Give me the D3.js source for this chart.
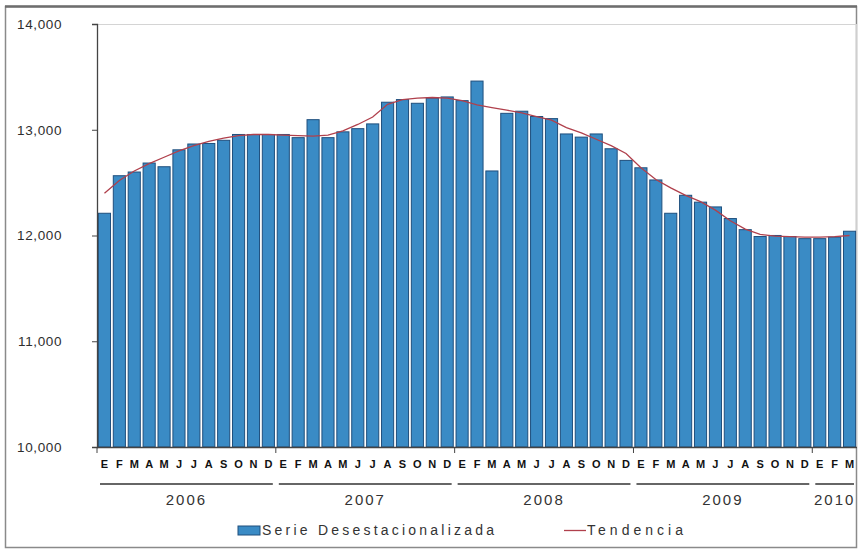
<!DOCTYPE html>
<html>
<head>
<meta charset="utf-8">
<script src="https://cdn.jsdelivr.net/npm/d3@7"></script>
<style>
  html, body { margin: 0; padding: 0; background: #fff; }
  svg { display: block; font-family: Arial, "Liberation Sans", sans-serif; }
</style>
</head>
<body>
<svg id="chart" width="861" height="552"></svg>
<script>
// Monthly series, January 2006 – March 2010
const years = [2006, 2007, 2008, 2009, 2010];
const monthLetters = ["E", "F", "M", "A", "M", "J", "J", "A", "S", "O", "N", "D"];
const monthsPerYear = [12, 12, 12, 12, 3];

// Serie Desestacionalizada
const seasonallyAdjusted = [
  12215, 12570, 12605, 12690, 12655, 12815, 12870, 12875, 12905, 12960, 12960, 12960,
  12960, 12930, 13100, 12930, 12985, 13015, 13060, 13265, 13290, 13255, 13305, 13315,
  13280, 13465, 12615, 13160, 13180, 13130, 13110, 12965, 12935, 12965, 12825, 12715,
  12645, 12530, 12215, 12385, 12320, 12275, 12165, 12060, 11995, 12005, 11995, 11975,
  11975, 11990, 12045
];

// Tendencia
const trend = [
  12400, 12520, 12610, 12680, 12740, 12800, 12850, 12890, 12920, 12945, 12955, 12955,
  12950, 12945, 12940, 12950, 12990, 13050, 13120, 13240, 13285, 13300, 13305, 13300,
  13275, 13235, 13210, 13185, 13160, 13125, 13090, 13020, 12970, 12910, 12850, 12775,
  12640, 12530, 12450, 12380, 12320, 12240, 12140, 12060, 12010, 11995, 11990, 11985,
  11985, 11990, 12000
];

const yTicks = [10000, 11000, 12000, 13000, 14000];

// Build the month index
const months = [];
years.forEach((yr, yi) => {
  for (let m = 0; m < monthsPerYear[yi]; m++) {
    months.push({ key: yr + "-" + m, year: yr, letter: monthLetters[m] });
  }
});
months.forEach((d, i) => { d.value = seasonallyAdjusted[i]; d.trend = trend[i]; });

const svg = d3.select("#chart");
const plotLeft = 97, plotRight = 857, plotTop = 24, plotBottom = 447;

// Outer frame
svg.append("rect")
  .attr("x", 5.5).attr("y", 6.5).attr("width", 851).attr("height", 541)
  .attr("fill", "#fff").attr("stroke", "#8a8a8a").attr("stroke-width", 1.5);
svg.append("line").attr("x1", 5).attr("x2", 857).attr("y1", 6.5).attr("y2", 6.5)
  .attr("stroke", "#6e6e6e").attr("stroke-width", 2.5);

const x = d3.scaleBand().domain(months.map(d => d.key)).range([plotLeft, plotRight]).paddingInner(0.12).paddingOuter(0.06);
const xs = d3.scaleBand().domain(months.map(d => d.key)).range([plotLeft, plotRight]);
const y = d3.scaleLinear().domain([10000, 14000]).range([plotBottom, plotTop]);

// Plot area top / right edges
svg.append("line").attr("x1", plotLeft).attr("x2", plotRight).attr("y1", plotTop + 0.5).attr("y2", plotTop + 0.5)
  .attr("stroke", "#d4d4d4");
svg.append("line").attr("x1", plotRight - 0.5).attr("x2", plotRight - 0.5).attr("y1", plotTop).attr("y2", plotBottom)
  .attr("stroke", "#cfcfcf");

// Bars
svg.append("g").selectAll("rect").data(months).join("rect")
  .attr("x", d => x(d.key) + 0.5)
  .attr("y", d => y(d.value) + 0.5)
  .attr("width", x.bandwidth() - 1)
  .attr("height", d => plotBottom - y(d.value) - 0.5)
  .attr("fill", "#3a8bc5")
  .attr("stroke", "#1f4f7d")
  .attr("stroke-width", 1);

// Trend line
const line = d3.line()
  .x(d => xs(d.key) + xs.bandwidth() / 2)
  .y(d => y(d.trend));
svg.append("path").datum(months)
  .attr("d", line)
  .attr("fill", "none")
  .attr("stroke", "#b0404c")
  .attr("stroke-width", 1.3);

// Y axis
const yAxis = d3.axisLeft(y).tickValues(yTicks).tickSize(5).tickPadding(30)
  .tickFormat(d3.format(",.0f"));
const gy = svg.append("g").attr("transform", `translate(${plotLeft},0)`).call(yAxis);
gy.select(".domain").attr("stroke", "#444").attr("stroke-width", 1.3);
gy.selectAll(".tick line").attr("stroke", "#444");
gy.selectAll(".tick text")
  .attr("font-size", 13.5).attr("fill", "#2e2e2e").attr("letter-spacing", 0.6)
  .attr("font-family", "Arial, 'Liberation Sans', sans-serif");

// X axis baseline
svg.append("line").attr("x1", plotLeft).attr("x2", plotRight).attr("y1", plotBottom + 0.5).attr("y2", plotBottom + 0.5)
  .attr("stroke", "#444").attr("stroke-width", 1.3);

// Year boundary ticks, group rules and labels
let start = 0;
years.forEach((yr, yi) => {
  const n = monthsPerYear[yi];
  const k0 = months[start].key, k1 = months[start + n - 1].key;
  const xa = xs(k0), xb = xs(k1) + xs.bandwidth();
  svg.append("line").attr("x1", xa).attr("x2", xa).attr("y1", plotBottom).attr("y2", plotBottom + 6)
    .attr("stroke", "#444");
  svg.append("line").attr("x1", xa + 3).attr("x2", xb - 3).attr("y1", 484).attr("y2", 484)
    .attr("stroke", "#333").attr("stroke-width", 1.5);
  svg.append("text").attr("x", (xa + xb) / 2).attr("y", 505)
    .attr("text-anchor", "middle").attr("font-size", 15).attr("letter-spacing", 2)
    .attr("fill", "#333").text(yr);
  start += n;
});

// Month letters
svg.append("g").selectAll("text").data(months).join("text")
  .attr("x", d => xs(d.key) + xs.bandwidth() / 2)
  .attr("y", 468)
  .attr("text-anchor", "middle")
  .attr("font-size", 11).attr("font-weight", "bold").attr("fill", "#111")
  .text(d => d.letter);

// Legend
const lg = svg.append("g");
lg.append("rect").attr("x", 238).attr("y", 526).attr("width", 22).attr("height", 9)
  .attr("fill", "#3a8bc5").attr("stroke", "#1f4f7d");
lg.append("text").attr("x", 262).attr("y", 535).attr("font-size", 14).attr("fill", "#333")
  .attr("textLength", 232).attr("lengthAdjust", "spacing").text("Serie Desestacionalizada");
lg.append("line").attr("x1", 564).attr("x2", 586).attr("y1", 530.5).attr("y2", 530.5)
  .attr("stroke", "#b0404c").attr("stroke-width", 1.3);
lg.append("text").attr("x", 587).attr("y", 535).attr("font-size", 14).attr("fill", "#333")
  .attr("textLength", 96).attr("lengthAdjust", "spacing").text("Tendencia");
</script>
</body>
</html>
